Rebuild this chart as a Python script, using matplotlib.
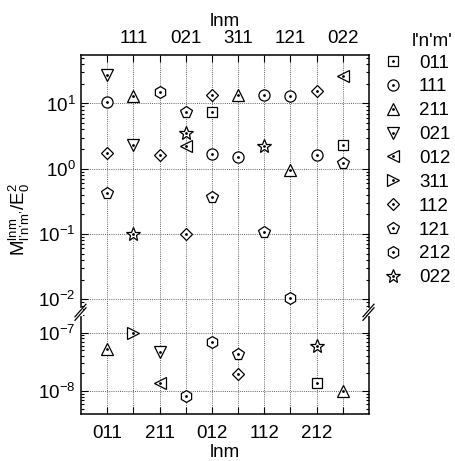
import numpy as np
import matplotlib
matplotlib.use("Agg")
import matplotlib.pyplot as plt
from matplotlib.lines import Line2D
from matplotlib.legend_handler import HandlerTuple
from matplotlib.ticker import LogLocator, NullFormatter

plt.rcParams['font.family'] = ['Liberation Sans', 'DejaVu Sans']
plt.rcParams['mathtext.fontset'] = 'custom'
plt.rcParams['mathtext.rm'] = 'Liberation Sans'
plt.rcParams['mathtext.it'] = 'Liberation Sans'
plt.rcParams['mathtext.default'] = 'regular'

# lnm columns along the x axis
columns = ['011', '111', '211', '021', '012', '311', '112', '121', '212', '022']

# l'n'm' series: (column index, value)
s011_cols = [4, 9, 8]
s011_vals = [7.5, 2.34, 1.37e-8]
s111_cols = [0, 4, 5, 6, 7, 8]
s111_vals = [10.4, 1.7, 1.5, 13.7, 13.1, 1.6]
s211_cols = [0, 1, 5, 7, 9]
s211_vals = [5.3e-8, 12.8, 13.7, 0.97, 1.0e-8]
s021_cols = [0, 1, 2]
s021_vals = [27.2, 2.34, 4.6e-8]
s012_cols = [3, 9, 2]
s012_vals = [2.26, 26.3, 1.37e-8]
s311_cols = [1]
s311_vals = [1.0e-7]
s112_cols = [0, 2, 3, 4, 8, 5]
s112_vals = [1.72, 1.6, 0.1, 13.4, 15.5, 1.92e-8]
s121_cols = [0, 3, 4, 6, 9, 5]
s121_vals = [0.43, 7.5, 0.366, 0.108, 1.22, 4.35e-8]
s212_cols = [2, 7, 3, 4]
s212_vals = [14.9, 0.0105, 8.2e-9, 6.95e-8]
s022_cols = [1, 3, 6, 8]
s022_vals = [0.1, 3.53, 2.26, 5.95e-8]

series = [
    ("011", 's', 6.5, s011_cols, s011_vals),
    ("111", 'o', 8, s111_cols, s111_vals),
    ("211", '^', 8.5, s211_cols, s211_vals),
    ("021", 'v', 8.5, s021_cols, s021_vals),
    ("012", '<', 8.5, s012_cols, s012_vals),
    ("311", '>', 8.5, s311_cols, s311_vals),
    ("112", 'D', 6.5, s112_cols, s112_vals),
    ("121", 'p', 8.5, s121_cols, s121_vals),
    ("212", 'h', 8.5, s212_cols, s212_vals),
    ("022", '*', 10, s022_cols, s022_vals),
]

fs = 13.5
fig = plt.figure(figsize=(4.56, 4.61), dpi=100)
left, width = 81 / 456, 288 / 456
y_break = 1 - 312 / 461
ax_up = fig.add_axes([left, y_break, width, (1 - 55 / 461) - y_break])
ax_lo = fig.add_axes([left, 1 - 414 / 461, width, y_break - (1 - 414 / 461)])

for ax in (ax_up, ax_lo):
    ax.set_yscale('log')
    ax.set_xlim(-1, 10)
    ax.set_xticks(range(len(columns)))
    ax.grid(True, which='major', ls=(0, (1, 1.2)), color='0.4', lw=0.7)
    ax.yaxis.set_minor_locator(LogLocator(base=10, subs=np.arange(2, 10), numticks=20))
    ax.yaxis.set_minor_formatter(NullFormatter())
    ax.tick_params(which='both', direction='in', left=True, right=True, labelsize=fs, width=0.8)
    ax.tick_params(which='major', length=5)
    ax.tick_params(which='minor', length=2.5)
    ax.tick_params(axis='y', pad=4)
    for sp in ax.spines.values():
        sp.set_linewidth(1.1)
    for name, mk, ms, cols, vals in series:
        ax.plot(cols, vals, ls='none', marker=mk, ms=ms, mfc='white', mec='black', mew=0.9, zorder=3)
        ax.plot(cols, vals, ls='none', marker='.', ms=2, color='black', zorder=4)

ax_up.set_ylim(10 ** -2.195, 10 ** 1.743)
ax_lo.set_ylim(10 ** -8.395, 10 ** -6.645)
ax_up.set_yticks([1e-2, 1e-1, 1e0, 1e1])
ax_lo.set_yticks([1e-8, 1e-7])

ax_up.spines['bottom'].set_visible(False)
ax_lo.spines['top'].set_visible(False)
ax_up.tick_params(axis='x', bottom=False, labelbottom=False, top=True, labeltop=True, pad=6)
ax_lo.tick_params(axis='x', top=False, bottom=True, labelbottom=True, pad=8)
ax_up.set_xticklabels([c if i % 2 == 1 else '' for i, c in enumerate(columns)])
ax_lo.set_xticklabels([c if i % 2 == 0 else '' for i, c in enumerate(columns)])
ax_up.xaxis.set_label_position('top')
ax_up.set_xlabel('lnm', fontsize=fs, labelpad=3)
ax_lo.set_xlabel('lnm', fontsize=fs, labelpad=1)

# break marks on both spines
for xb in (0, 1):
    x0 = left + xb * width
    fig.add_artist(Line2D([x0, x0], [y_break - 2 / 461, y_break + 2 / 461],
                          color='white', lw=3, zorder=5))
    for off in (-1.8 / 461, 1.8 / 461):
        fig.add_artist(Line2D([x0 - 6 / 456, x0 + 5 / 456],
                              [y_break - 6.5 / 461 + off, y_break + 6 / 461 + off],
                              color='black', lw=0.9, zorder=6))

fig.text(19 / 456, 1 - 220 / 461,
         "$M^{lnm}_{l\u2019n\u2019m\u2019}/E_0^2$",
         rotation=90, ha='center', va='center', fontsize=fs)

handles = [(Line2D([], [], ls='none', marker=mk, ms=ms, mfc='white', mec='black', mew=0.9),
            Line2D([], [], ls='none', marker='.', ms=2, color='black'))
           for name, mk, ms, cols, vals in series]
labels = [s[0] for s in series]
fig.text(432 / 456, 1 - 41 / 461, "l'n'm'", ha='center', va='center', fontsize=fs)
fig.legend(handles, labels, handler_map={tuple: HandlerTuple(ndivide=1)},
           loc='upper left', bbox_to_anchor=(371 / 456, 1 - 45 / 461),
           frameon=False, fontsize=fs, handlelength=1.3, handletextpad=0.76,
           labelspacing=0.36, borderpad=0)

fig.savefig('out.png', dpi=100)
